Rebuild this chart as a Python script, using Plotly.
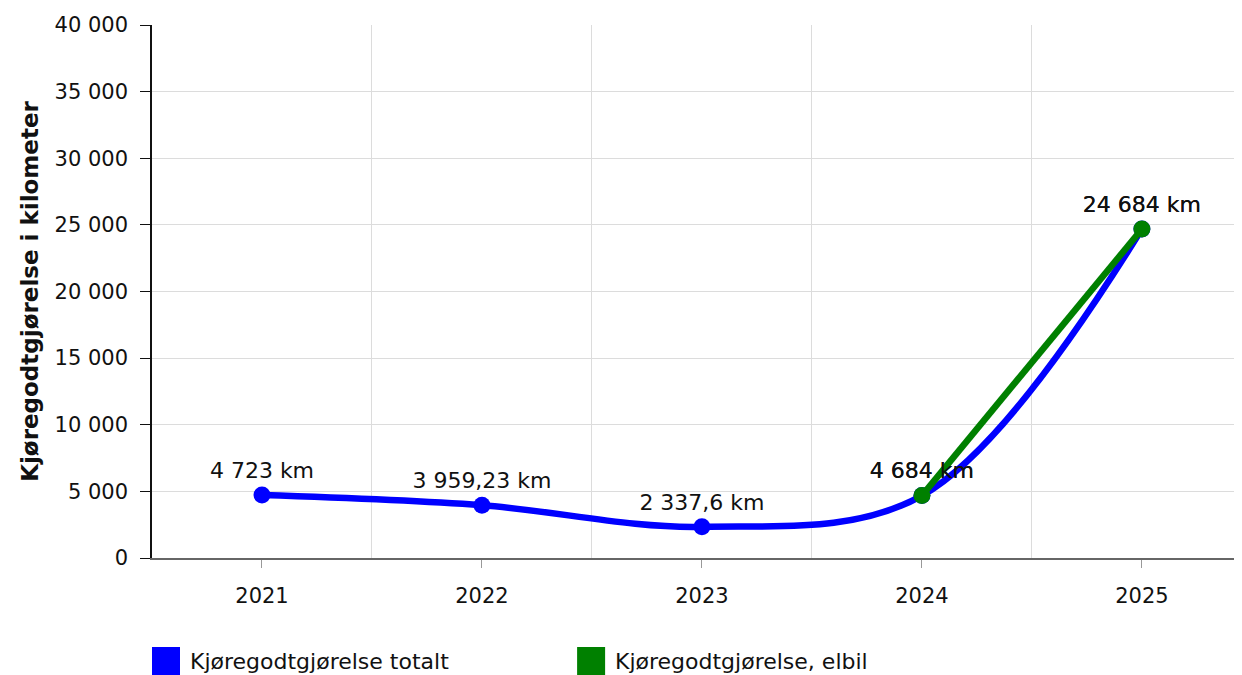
import plotly.graph_objects as go

# ── data ─────────────────────────────────────────────────────────────────────
years = ["2021", "2022", "2023", "2024", "2025"]
total_km = [4723, 3959.23, 2337.6, 4684, 24684]

elbil_years = ["2024", "2025"]
elbil_km = [4684, 24684]

y_ticks = [0, 5000, 10000, 15000, 20000, 25000, 30000, 35000, 40000]

series_names = ["Kjøregodtgjørelse totalt", "Kjøregodtgjørelse, elbil"]
series_colors = ["#0000ff", "#008000"]

# numeric positions so the grid can sit between categories
x_total = [years.index(y) for y in years]
x_elbil = [years.index(y) for y in elbil_years]

FONT = "DejaVu Sans, Verdana, sans-serif"

fig = go.Figure()

fig.add_trace(go.Scatter(
    x=x_total, y=total_km,
    mode="lines+markers+text",
    line=dict(color=series_colors[0], width=6.5, shape="spline", smoothing=1),
    marker=dict(size=17, color=series_colors[0]),
    texttemplate="%{y:,} km",
    textposition="top center",
    textfont=dict(size=22, color="#111"),
    name=series_names[0],
    showlegend=False,
))

fig.add_trace(go.Scatter(
    x=x_elbil, y=elbil_km,
    mode="lines+markers+text",
    line=dict(color=series_colors[1], width=6.5),
    marker=dict(size=17, color=series_colors[1]),
    texttemplate="%{y:,} km",
    textposition="top center",
    textfont=dict(size=22, color="#111"),
    name=series_names[1],
    showlegend=False,
))

# ── hand-made legend with square swatches ───────────────────────────────────
legend_x = [0.0, 0.39]
for name, color, lx in zip(series_names, series_colors, legend_x):
    fig.add_shape(type="rect", xref="paper", yref="paper",
                  x0=lx, x1=lx + 0.0257, y0=-0.167, y1=-0.222,
                  fillcolor=color, line=dict(width=0))
    fig.add_annotation(xref="paper", yref="paper", x=lx + 0.033, y=-0.194,
                       text=name, showarrow=False, xanchor="left", yanchor="middle",
                       font=dict(size=22, color="#111", family=FONT))

# page body has an 8px margin, so the figure is trimmed by that amount
fig.update_layout(
    width=1234, height=667,
    margin=dict(l=144, r=0, t=17, b=117),
    plot_bgcolor="white", paper_bgcolor="white",
    font=dict(family=FONT, size=21, color="#111"),
    separators=", ",
    showlegend=False,
)

fig.update_xaxes(
    range=[-0.5, 4.455],
    tickvals=x_total, ticktext=years,
    showgrid=False,
    ticks="outside", ticklen=8, tickcolor="#999",
    ticklabelstandoff=10,
    showline=True, linecolor="#666", linewidth=1.5,
    minor=dict(tick0=0.5, dtick=1, showgrid=True, gridcolor="#dcdcdc", gridwidth=1),
    zeroline=False,
)

fig.update_yaxes(
    range=[0, 40000],
    tickvals=y_ticks, tickformat=",d",
    showgrid=True, gridcolor="#dcdcdc", gridwidth=1,
    ticks="outside", ticklen=10, tickcolor="#111",
    ticklabelstandoff=8,
    showline=True, linecolor="#111", linewidth=1.5,
    zeroline=False,
    title=dict(text="<b>Kjøregodtgjørelse i kilometer</b>", standoff=10,
               font=dict(size=23, family=FONT, color="#111")),
)

fig.write_html("out.html")
